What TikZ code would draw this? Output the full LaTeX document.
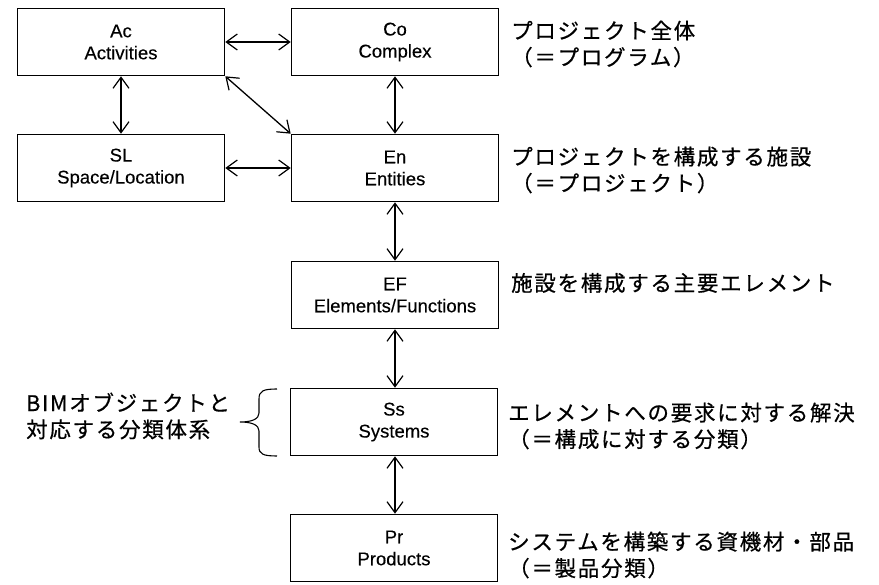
\documentclass[tikz,border=0pt]{standalone}
\usepackage{fontspec}
\setmainfont{Liberation Sans}[FakeBold=0.3]
\newfontfamily\jp[LetterSpace=8,FakeBold=0.6]{Noto Sans CJK JP}
\usetikzlibrary{arrows.meta}
\begin{document}
\begin{tikzpicture}[x=1pt,y=-1pt,
  box/.style={draw, line width=1.6pt, minimum width=207pt, minimum height=67pt, align=center, inner sep=0pt,
    font=\fontsize{18.5}{22}\selectfont},
  tip/.style={Straight Barb[length=11pt,width=16pt,line width=1.2pt]},
  link/.style={line width=1.3pt, {Straight Barb[length=11pt,width=16pt,line width=1.2pt]}-{Straight Barb[length=11pt,width=16pt,line width=1.2pt]}},
  note/.style={anchor=west, align=left, inner sep=0pt, font=\jp\fontsize{21.5}{26.5}\selectfont}]
\useasboundingbox (0,0) rectangle (879,585);
\node[box] (ac) at (121,42) {Ac\\Activities};
\node[box] (co) at (395,42) {Co\\Complex};
\node[box] (sl) at (121,168) {SL\\Space/Location};
\node[box] (en) at (395,168) {En\\Entities};
\node[box] (ef) at (395,295) {EF\\Elements/Functions};
\node[box] (ss) at (394,422) {Ss\\Systems};
\node[box] (pr) at (394,548) {Pr\\Products};

\draw[link] (ac.east) -- (co.west);
\draw[link] (ac.south) -- (sl.north);
\draw[link] (co.south) -- (en.north);
\draw[link] (sl.east) -- (en.west);
\draw[link] (ac.south east) -- (en.north west);
\draw[link] (en.south) -- (ef.north);
\draw[link] (ef.south) -- (ss.north -| ef.south);
\draw[link] (ss.south -| ef.south) -- (pr.north -| ef.south);

\node[note] (tco) at (511,44) {プロジェクト全体\\（＝プログラム）};
\node[note] (ten) at (511,170) {プロジェクトを構成する施設\\（＝プロジェクト）};
\node[note] (tef) at (511,283) {施設を構成する主要エレメント};
\node[note] (tss) at (508,426) {エレメントへの要求に対する解決\\（＝構成に対する分類）};
\node[note] (tpr) at (508,555) {システムを構築する資機材・部品\\（＝製品分類）};
\node[note] (tbim) at (26,416) {BIMオブジェクトと\\対応する分類体系};

\coordinate (bt) at (277,389);
\coordinate (bb) at (277,456);
\coordinate (btip) at (240,422);
\draw[line width=1.1pt] (bt) .. controls (263,389) and (259,391) .. (259,399) -- (259,413)
  .. controls (259,419) and (252,422) .. (btip)
  .. controls (252,422) and (259,425) .. (259,431) -- (259,447)
  .. controls (259,454) and (263,456) .. (bb);
\end{tikzpicture}
\end{document}
